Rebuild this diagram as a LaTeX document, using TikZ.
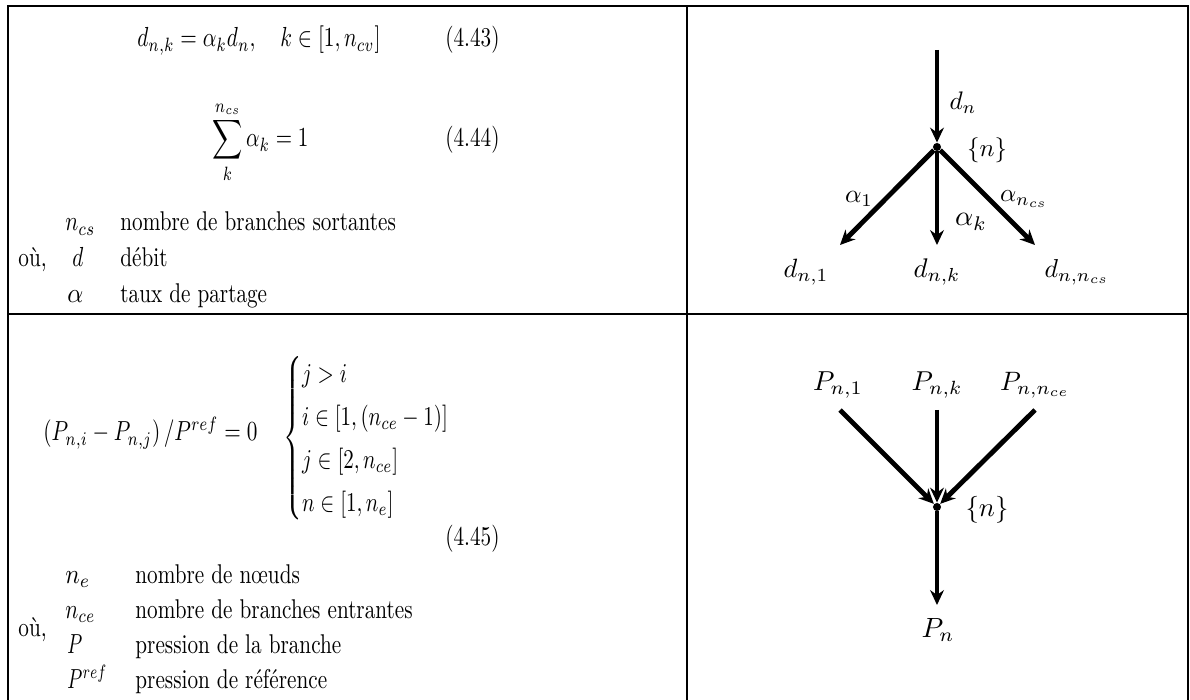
\documentclass[tikz,border=0pt]{standalone}
\usepackage{amsmath,amssymb}
\usepackage{graphicx}
\usepackage{fontspec}
\usepackage{tikz}
\usetikzlibrary{arrows.meta,positioning}
\newlength{\pxu}
\setlength{\pxu}{0.4717pt}
\newcommand{\fitm}[2]{\resizebox{#1\pxu}{1.3\height}{$#2$}}
\newcommand{\fitl}[2]{\resizebox{#1\pxu}{!}{$#2$}}

\begin{document}
\begin{tikzpicture}[
  x=0.4717pt, y=-0.4717pt,
  rule/.style={line width=0.9pt},
  ink/.style={inner sep=0pt},
  txt/.style={ink, anchor=base west, yscale=1.28},
  eqn/.style={ink, anchor=base west},
  tag/.style={ink, anchor=base east, yscale=1.28},
  lbl/.style={ink},
  junction/.style={circle, fill=black, inner sep=0pt, minimum size=3.8pt},
  pipe/.style={-{Stealth[length=7pt,width=6.5pt]}, line width=2.3pt}
]
\clip (0,0) rectangle (1190,700);
\draw[rule] (8,720) -- (8,6) -- (1188,6) -- (1188,720);
\draw[rule] (8,314) -- (1188,314);
\draw[rule] (687,6) -- (687,720);

\node[eqn] (eqa) at (137,47) {\fitm{243}{d_{n,k} = \alpha_k d_n, \quad k \in [1, n_{cv}]}};
\node[tag] (taga) at (500,47) {(4.43)};
\node[eqn] (eqb) at (212,147) {\fitm{96}{\displaystyle\sum_{k}^{n_{cs}} \alpha_k = 1}};
\node[tag] (tagb) at (500,147) {(4.44)};
\node[eqn] (syma1) at (65,231) {\fitm{30}{n_{cs}}};
\node[txt] (desa1) at (120,231) {nombre de branches sortantes};
\node[txt] (oua) at (18,267) {où,};
\node[eqn] (syma2) at (72,267) {\fitm{11}{d}};
\node[txt] (desa2) at (120,267) {débit};
\node[eqn] (syma3) at (67,303) {\fitm{16}{\alpha}};
\node[txt] (desa3) at (120,303) {taux de partage};

\coordinate (qin) at (937,50);
\node[junction] (na) at (937,147) {};
\coordinate (qa1) at (840,245);
\coordinate (qak) at (937,245);
\coordinate (qan) at (1035,245);
\draw[pipe] (qin) -- (na);
\draw[pipe] (na) -- (qa1);
\draw[pipe] (na) -- (qak);
\draw[pipe] (na) -- (qan);
\node[lbl] (ldn) at (963,103) {\fitl{27}{d_n}};
\node[lbl] (lna) at (987,150) {\fitl{40}{\{n\}}};
\node[lbl] (lal1) at (859,199) {\fitl{28}{\alpha_1}};
\node[lbl] (lalk) at (971,222) {\fitl{32}{\alpha_k}};
\node[lbl] (laln) at (1024,199) {\fitl{48}{\alpha_{n_{cs}}}};
\node[lbl] (ld1) at (806,272) {\fitl{45}{d_{n,1}}};
\node[lbl] (ldk) at (937,272) {\fitl{47}{d_{n,k}}};
\node[lbl] (ldn2) at (1077,272) {\fitl{65}{d_{n,n_{cs}}}};

\node[eqn] (eqc) at (43,441) {\fitm{214}{\left(P_{n,i} - P_{n,j}\right)/P^{ref} = 0}};
\node[ink, anchor=west] (condc) at (283,438)
  {\resizebox*{167\pxu}{172\pxu}{$\renewcommand{\arraystretch}{1.32}\left\{\begin{array}{@{}l@{}}
    j > i\\
    i \in [1, (n_{ce}-1)]\\
    j \in [2, n_{ce}]\\
    n \in [1, n_e]
  \end{array}\right.$}};
\node[tag] (tagc) at (500,545) {(4.45)};
\node[eqn] (symc1) at (65,583) {\fitm{25}{n_e}};
\node[txt] (desc1) at (135,583) {nombre de nœuds};
\node[eqn] (symc2) at (65,618) {\fitm{30}{n_{ce}}};
\node[txt] (desc2) at (135,618) {nombre de branches entrantes};
\node[txt] (ouc) at (18,636) {où,};
\node[eqn] (symc3) at (67,653) {\fitm{15}{P}};
\node[txt] (desc3) at (135,653) {pression de la branche};
\node[eqn] (symc4) at (67,688) {\fitm{40}{P^{ref}}};
\node[txt] (desc4) at (135,688) {pression de référence};

\coordinate (pi1) at (840,410);
\coordinate (pik) at (937,410);
\coordinate (pin) at (1035,410);
\node[junction] (nc) at (937,507) {};
\coordinate (pout) at (937,605);
\draw[pipe] (pi1) -- (nc);
\draw[pipe] (pik) -- (nc);
\draw[pipe] (pin) -- (nc);
\draw[pipe] (nc) -- (pout);
\node[lbl] (lp1) at (838,385) {\fitl{50}{P_{n,1}}};
\node[lbl] (lpk) at (937,385) {\fitl{51}{P_{n,k}}};
\node[lbl] (lpn) at (1035,385) {\fitl{70}{P_{n,n_{ce}}}};
\node[lbl] (lnc) at (987,510) {\fitl{43}{\{n\}}};
\node[lbl] (lpout) at (938,630) {\fitl{33}{P_n}};
\end{tikzpicture}
\end{document}
